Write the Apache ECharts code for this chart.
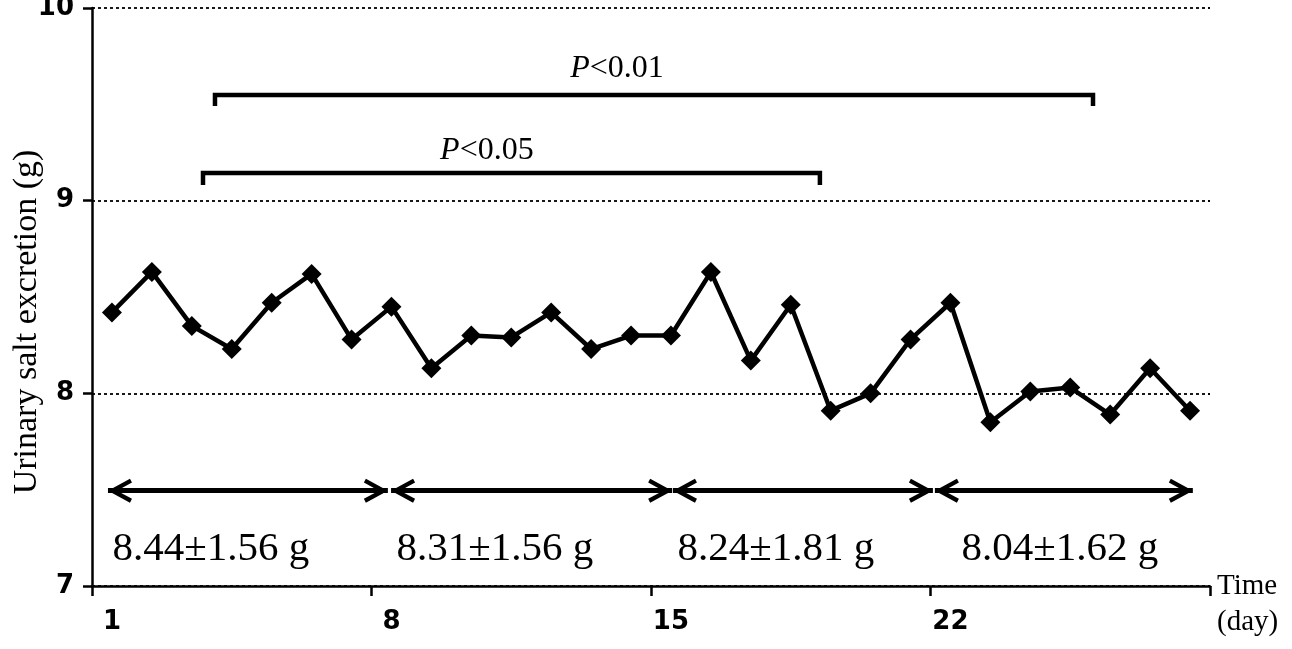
<!DOCTYPE html>
<html>
<head>
<meta charset="utf-8">
<script src="https://cdn.jsdelivr.net/npm/echarts@6.0.0/dist/echarts.min.js"></script>
<style>
  html, body { margin: 0; padding: 0; background: #fff; }
  #chart { width: 1292px; height: 649px; }
</style>
</head>
<body>
<div id="chart"></div>
<script>
// ---- data ----
const days = ['1','2','3','4','5','6','7','8','9','10','11','12','13','14','15','16','17','18','19','20','21','22','23','24','25','26','27','28'];
const salt = [8.42, 8.63, 8.35, 8.23, 8.47, 8.62, 8.28, 8.45, 8.13, 8.30, 8.29, 8.42, 8.23, 8.30, 8.30, 8.63, 8.17, 8.46, 7.91, 8.00, 8.28, 8.47, 7.85, 8.01, 8.03, 7.89, 8.13, 7.91];
const yTicks = [7, 8, 9, 10];
// weekly means (label text) and the day ranges (category index units) of the double arrows
const weekLabels = ['8.44\u00b11.56 g', '8.31\u00b11.56 g', '8.24\u00b11.81 g', '8.04\u00b11.62 g'];
const weekSpans = [[-0.10, 6.91], [6.99, 14.03], [14.05, 20.56], [20.61, 27.07]];
const weekLabelX = [2.48, 9.59, 16.63, 23.74];
const arrowLevel = 7.495;
const weekLabelLevel = 7.19;
// significance brackets: [startIndex, endIndex, topValue, footValue]
const bracket05 = [2.28, 17.73, 9.144, 9.081];
const bracket01 = [2.58, 24.57, 9.548, 9.491];
const pLabels = [{ text: '<0.05', x: 9.39, y: 9.258 }, { text: '<0.01', x: 12.65, y: 9.683 }];

const serif = '"Liberation Serif", "Times New Roman", serif';
const chevron = 'path://M12,0 M12,24 L24,46 L20.2,48 L12,33 L3.8,48 L0,46 Z';

function bracketData(b) {
  return [[b[0], b[3]], [b[0], b[2]], [b[1], b[2]], [b[1], b[3]]];
}

const chart = echarts.init(document.getElementById('chart'), null, { renderer: 'canvas' });
const option = {
  animation: false,
  backgroundColor: '#fff',
  grid: { left: 92, right: 82, top: 8, bottom: 63, containLabel: false, outerBoundsMode: 'none' },
  xAxis: [
    {
      type: 'category',
      data: days,
      boundaryGap: true,
      axisLine: { onZero: false, lineStyle: { color: '#000', width: 2.5 } },
      axisTick: { show: true, interval: 6, length: 10, lineStyle: { color: '#000', width: 2.5 } },
      axisLabel: {
        interval: 6, margin: 23, color: '#000',
        fontFamily: '"DejaVu Sans", sans-serif', fontWeight: 'bold', fontSize: 26
      },
      splitLine: { show: false }
    },
    { type: 'value', min: -0.5, max: 27.5, show: false, position: 'top' }
  ],
  yAxis: {
    type: 'value', min: 7, max: 10, interval: 1,
    axisLine: { show: true, onZero: false, lineStyle: { color: '#000', width: 2.5 } },
    axisTick: { show: true, length: 9, lineStyle: { color: '#000', width: 2.5 } },
    axisLabel: {
      margin: 18, color: '#000',
      fontFamily: '"DejaVu Sans", sans-serif', fontWeight: 'bold', fontSize: 26,
      formatter: v => (yTicks.indexOf(v) >= 0 ? String(v) : '')
    },
    splitLine: { show: true, lineStyle: { color: '#000', width: 1.8, type: [3, 3] } },
    name: 'Urinary salt excretion (g)',
    nameLocation: 'middle',
    nameGap: 48,
    nameMoveOverlap: false,
    nameTextStyle: { fontFamily: serif, fontSize: 34, color: '#000', padding: [0, 50, 0, 0] }
  },
  graphic: [
    {
      type: 'text', left: 1217, top: 568,
      style: { text: 'Time\n(day)', font: '29px ' + serif, fill: '#000', lineHeight: 36 }
    }
  ],
  series: [
    {
      type: 'line',
      data: salt,
      xAxisIndex: 0,
      symbol: 'diamond',
      symbolSize: 20,
      lineStyle: { color: '#000', width: 4.5 },
      itemStyle: { color: '#000' },
      z: 5
    },
    {
      type: 'line',
      xAxisIndex: 1,
      data: bracketData(bracket05),
      symbol: 'none',
      lineStyle: { color: '#000', width: 4.5, join: 'miter' },
      markLine: {
        silent: true,
        symbol: [chevron, chevron],
        symbolSize: [24, 48],
        lineStyle: { color: '#000', width: 5, type: 'solid' },
        label: { show: false },
        data: weekSpans.map(s => [{ coord: [s[0], arrowLevel] }, { coord: [s[1], arrowLevel] }])
      },
      markPoint: {
        silent: true,
        symbol: 'circle',
        symbolSize: 1,
        itemStyle: { color: 'rgba(0,0,0,0)' },
        label: {
          show: true, position: 'inside', color: '#000',
          fontFamily: serif, fontSize: 32,
          formatter: p => p.data.kind === 'p' ? '{i|P}' + p.data.txt : p.data.txt,
          rich: { i: { fontFamily: serif, fontSize: 32, fontStyle: 'italic', color: '#000' } }
        },
        data: pLabels.map(p => ({ coord: [p.x, p.y], txt: p.text, kind: 'p' }))
          .concat(weekLabels.map((t, i) => ({
            coord: [weekLabelX[i], weekLabelLevel], txt: t, kind: 'w',
            label: { fontSize: 41 }
          })))
      }
    },
    {
      type: 'line',
      xAxisIndex: 1,
      data: bracketData(bracket01),
      symbol: 'none',
      lineStyle: { color: '#000', width: 4.5, join: 'miter' }
    }
  ]
};
chart.setOption(option);
</script>
</body>
</html>
